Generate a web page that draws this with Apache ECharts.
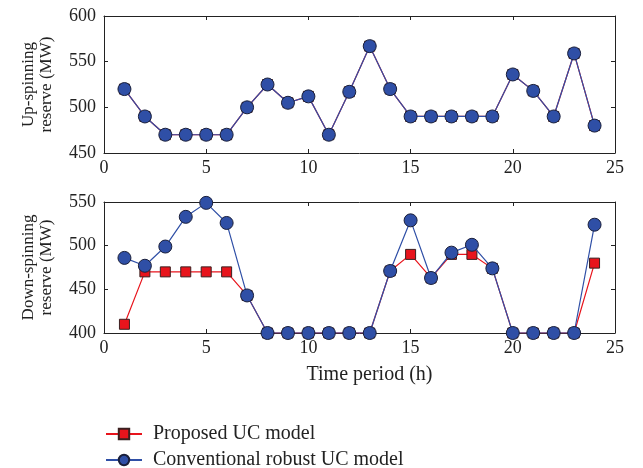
<!DOCTYPE html>
<html>
<head>
<meta charset="utf-8">
<script src="https://cdn.jsdelivr.net/npm/echarts@6/dist/echarts.min.js"></script>
<style>
    html, body {margin: 0; padding: 0; background: #fff;}
    #main {width: 643px; height: 468px;}
</style>
</head>
<body>
<div id="main"></div>
<script>
const FONT = 'Liberation Serif';
const RED = '#e8141c';
const BLUE = '#2f4fa6';

// ------------------ data ------------------
const hours = [1, 2, 3, 4, 5, 6, 7, 8, 9, 10, 11, 12, 13, 14, 15, 16, 17, 18, 19, 20, 21, 22, 23, 24];
const upProposed = [520, 490, 470, 470, 470, 470, 500, 525, 505, 512, 470, 517, 567, 520, 490, 490, 490, 490, 490, 536, 518, 490, 559, 480];
const upConventional = [520, 490, 470, 470, 470, 470, 500, 525, 505, 512, 470, 517, 567, 520, 490, 490, 490, 490, 490, 536, 518, 490, 559, 480];
const downProposed = [410, 470, 470, 470, 470, 470, 443, 400, 400, 400, 400, 400, 400, 471, 490, 463, 490, 490, 474, 400, 400, 400, 400, 480];
const downConventional = [486, 477, 499, 533, 549, 526, 443, 400, 400, 400, 400, 400, 400, 471, 529, 463, 492, 501, 474, 400, 400, 400, 400, 524];

function pairs(vals) {
    return hours.map(function (h, i) {
        return [h, vals[i]];
    });
}

function xAx(gridIndex, pos, labels, name) {
    return {
        type: 'value', gridIndex: gridIndex, position: pos,
        min: 0, max: 25, interval: 5,
        name: name || '', nameLocation: 'middle', nameGap: 32,
        nameTextStyle: {fontFamily: FONT, fontSize: 20, color: '#222', padding: [0, 0, 0, 20]},
        axisLine: {show: true, onZero: false, lineStyle: {color: '#222', width: 1}},
        axisTick: {show: true, inside: true, length: 4, lineStyle: {color: '#222'}},
        axisLabel: {show: labels, fontFamily: FONT, fontSize: 18, color: '#222', margin: 6},
        splitLine: {show: false}
    };
}

function yAx(gridIndex, pos, min, max, labels, name) {
    return {
        type: 'value', gridIndex: gridIndex, position: pos,
        min: min, max: max, interval: 50,
        name: name || '', nameLocation: 'middle', nameGap: 48, nameRotate: 90,
        nameTextStyle: {fontFamily: FONT, fontSize: 17, color: '#222', lineHeight: 18},
        axisLine: {show: true, onZero: false, lineStyle: {color: '#222', width: 1}},
        axisTick: {show: true, inside: true, length: 4, lineStyle: {color: '#222'}},
        axisLabel: {show: labels, fontFamily: FONT, fontSize: 18, color: '#222', margin: 8},
        splitLine: {show: false}
    };
}

function redSeries(name, xi, vals) {
    return {
        name: name, type: 'line', xAxisIndex: xi, yAxisIndex: xi,
        data: pairs(vals), symbol: 'rect', symbolSize: 10,
        lineStyle: {color: RED, width: 1.2},
        itemStyle: {color: RED, borderColor: '#3a2020', borderWidth: 1},
        emphasis: {disabled: true}, z: 2
    };
}

function blueSeries(name, xi, vals) {
    return {
        name: name, type: 'line', xAxisIndex: xi, yAxisIndex: xi,
        data: pairs(vals), symbol: 'circle', symbolSize: 13,
        lineStyle: {color: BLUE, width: 1.2},
        itemStyle: {color: BLUE, borderColor: '#1a1f3a', borderWidth: 1},
        emphasis: {disabled: true}, z: 3
    };
}

function legendRow(name, top) {
    return {
        left: 100, top: top,
        itemWidth: 36, itemHeight: 13, itemGap: 8,
        textStyle: {fontFamily: FONT, fontSize: 20, color: '#222', padding: [0, 0, 0, 6]},
        data: [name]
    };
}

let myChart = echarts.init(document.getElementById('main'), null, {renderer: 'canvas'});

let option = {
    animation: false,
    backgroundColor: '#fff',
    grid: [
        {left: 104, right: 28, top: 16, height: 137},
        {left: 104, right: 28, top: 202, height: 131}
    ],
    xAxis: [
        xAx(0, 'bottom', true),
        xAx(1, 'bottom', true, 'Time period (h)'),
        xAx(0, 'top', false),
        xAx(1, 'top', false)
    ],
    yAxis: [
        yAx(0, 'left', 450, 600, true, 'Up-spinning\nreserve (MW)'),
        yAx(1, 'left', 400, 550, true, 'Down-spinning\nreserve (MW)'),
        yAx(0, 'right', 450, 600, false),
        yAx(1, 'right', 400, 550, false)
    ],
    legend: [
        legendRow('Proposed UC model', 419),
        legendRow('Conventional robust UC model', 445)
    ],
    series: [
        redSeries('Proposed UC model', 0, upProposed),
        blueSeries('Conventional robust UC model', 0, upConventional),
        redSeries('Proposed UC model', 1, downProposed),
        blueSeries('Conventional robust UC model', 1, downConventional)
    ]
};

myChart.setOption(option, true);
</script>
</body>
</html>
